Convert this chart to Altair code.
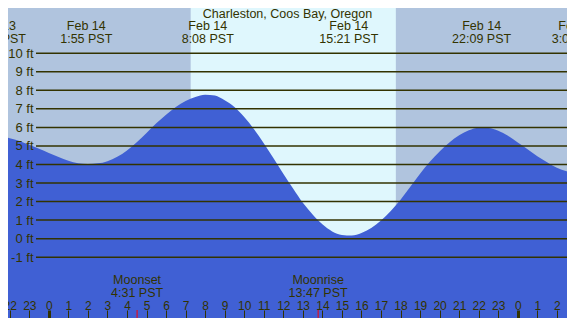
import altair as alt
import pandas as pd

# ---- data ----
hours = [-2.5, -2.0, -1.5, -1.0, -0.5, 0.0, 0.5, 1.0, 1.5, 2.0, 2.5, 3.0, 3.5, 4.0,
         4.5, 5.0, 5.5, 6.0, 6.5, 7.0, 7.5, 8.0, 8.5, 9.0, 9.5, 10.0, 10.5, 11.0,
         11.5, 12.0, 12.5, 13.0, 13.5, 14.0, 14.5, 15.0, 15.5, 16.0, 16.5, 17.0,
         17.5, 18.0, 18.5, 19.0, 19.5, 20.0, 20.5, 21.0, 21.5, 22.0, 22.5, 23.0,
         23.5, 24.0, 24.5, 25.0, 25.5, 26.0, 26.5, 27.0]
heights = [5.50, 5.42, 5.27, 5.06, 4.85, 4.62, 4.40, 4.20, 4.07, 4.03, 4.06, 4.18,
           4.42, 4.76, 5.20, 5.70, 6.22, 6.68, 7.10, 7.42, 7.64, 7.76, 7.72, 7.46,
           7.10, 6.56, 5.90, 5.14, 4.33, 3.50, 2.70, 1.93, 1.30, 0.77, 0.39, 0.20,
           0.17, 0.30, 0.57, 0.98, 1.49, 2.10, 2.80, 3.50, 4.15, 4.70, 5.18, 5.57,
           5.84, 5.98, 5.97, 5.82, 5.55, 5.18, 4.82, 4.44, 4.12, 3.82, 3.63, 3.52]

levels = [-1, 0, 1, 2, 3, 4, 5, 6, 7, 8, 9, 10]
hour_ticks = list(range(-2, 27))

sun_start = [7.26]
sun_end = [17.76]

event_hours = [-2.68, 1.917, 8.133, 15.35, 22.15, 27.07]
event_dates = ["Feb 13", "Feb 14", "Feb 14", "Feb 14", "Feb 14", "Feb 15"]
event_times = ["21:19 PST", "1:55 PST", "8:08 PST", "15:21 PST", "22:09 PST", "3:04 PST"]

moon_hours = [4.517, 13.783]
moon_names = ["Moonset", "Moonrise"]
moon_times = ["4:31 PST", "13:47 PST"]

title_text = ["Charleston, Coos Bay, Oregon"]

# ---- style ----
W, H = 559, 310
NIGHT = "#b0c4de"
DAY = "#dff7fd"
WATER = "#4060d4"
INK = "#333300"
FONT = "Liberation Sans"
Y_MIN, Y_MAX = -4.28, 12.44

x_scale = alt.Scale(domain=[-2.09, 26.52], nice=False, zero=False)
y_scale = alt.Scale(domain=[Y_MIN, Y_MAX], nice=False, zero=False)

tide_df = pd.DataFrame({"h": hours, "ft": heights})
lvl_df = pd.DataFrame({"level": levels})
sun_df = pd.DataFrame({"start": sun_start, "end": sun_end})
ev_df = pd.DataFrame({"h": event_hours, "date": event_dates, "time": event_times})
moon_df = pd.DataFrame({"h": moon_hours, "name": moon_names, "time": moon_times})
title_df = pd.DataFrame({"t": title_text})

x_axis = alt.Axis(
    values=hour_ticks,
    labelExpr="toString((datum.value + 24) % 24)",
    orient="bottom",
    offset=-8,
    domain=False,
    grid=False,
    ticks=True,
    tickSize=8,
    tickColor=INK,
    tickWidth={"condition": {"test": "datum.value % 24 === 0", "value": 3}, "value": 1},
    labelPadding=-9,
    labelBaseline="alphabetic",
    labelColor=INK,
    labelFont=FONT,
    labelFontSize=12,
    labelOverlap=False,
    labelFlush=False,
    title=None,
    zindex=1,
)

y_axis = alt.Axis(
    values=levels,
    labelExpr="datum.value + ' ft'",
    orient="left",
    offset=-28,
    domain=False,
    grid=False,
    ticks=False,
    labelPadding=3,
    labelColor=INK,
    labelFont=FONT,
    labelFontSize=13,
    labelOverlap=False,
    labelFlush=False,
    title=None,
    zindex=1,
)

day = alt.Chart(sun_df).mark_rect(color=DAY).encode(
    x=alt.X("start:Q", scale=x_scale, axis=x_axis),
    x2="end:Q",
    y=alt.value(0),
    y2=alt.value(H),
)

area = alt.Chart(tide_df).mark_area(color=WATER, interpolate="monotone", clip=True).encode(
    x=alt.X("h:Q", scale=x_scale, axis=x_axis),
    y=alt.Y("ft:Q", scale=y_scale, axis=y_axis),
    y2=alt.datum(Y_MIN),
)

rules = alt.Chart(lvl_df).mark_rule(color=INK, strokeWidth=1.5).encode(
    y=alt.Y("level:Q", scale=y_scale, axis=y_axis),
    x=alt.value(28),
    x2=alt.value(W),
)

txt = dict(font=FONT, fontSize=12.5, color=INK, baseline="alphabetic", align="center")

ev_date = alt.Chart(ev_df).mark_text(**txt).encode(
    x=alt.X("h:Q", scale=x_scale, axis=x_axis),
    y=alt.value(21.6),
    text="date:N",
)
ev_time = alt.Chart(ev_df).mark_text(**txt).encode(
    x=alt.X("h:Q", scale=x_scale, axis=x_axis),
    y=alt.value(35.0),
    text="time:N",
)

title = alt.Chart(title_df).mark_text(**txt).encode(
    x=alt.value(W / 2),
    y=alt.value(9.6),
    text="t:N",
)

moon_tick = alt.Chart(moon_df).mark_rule(color="#ff0000", strokeWidth=1).encode(
    x=alt.X("h:Q", scale=x_scale, axis=x_axis),
    y=alt.value(H - 8),
    y2=alt.value(H),
)
moon_name = alt.Chart(moon_df).mark_text(**txt).encode(
    x=alt.X("h:Q", scale=x_scale, axis=x_axis),
    y=alt.value(276.0),
    text="name:N",
)
moon_time = alt.Chart(moon_df).mark_text(**txt).encode(
    x=alt.X("h:Q", scale=x_scale, axis=x_axis),
    y=alt.value(288.6),
    text="time:N",
)

chart = alt.layer(
    day, area, rules, ev_date, ev_time, title, moon_tick, moon_name, moon_time
).properties(
    width=W,
    height=H,
    background=NIGHT,
    padding=0,
    autosize=alt.AutoSizeParams(type="none"),
).configure_view(stroke=None)

chart.save("out.html", embed_options={"renderer": "svg", "actions": False})
